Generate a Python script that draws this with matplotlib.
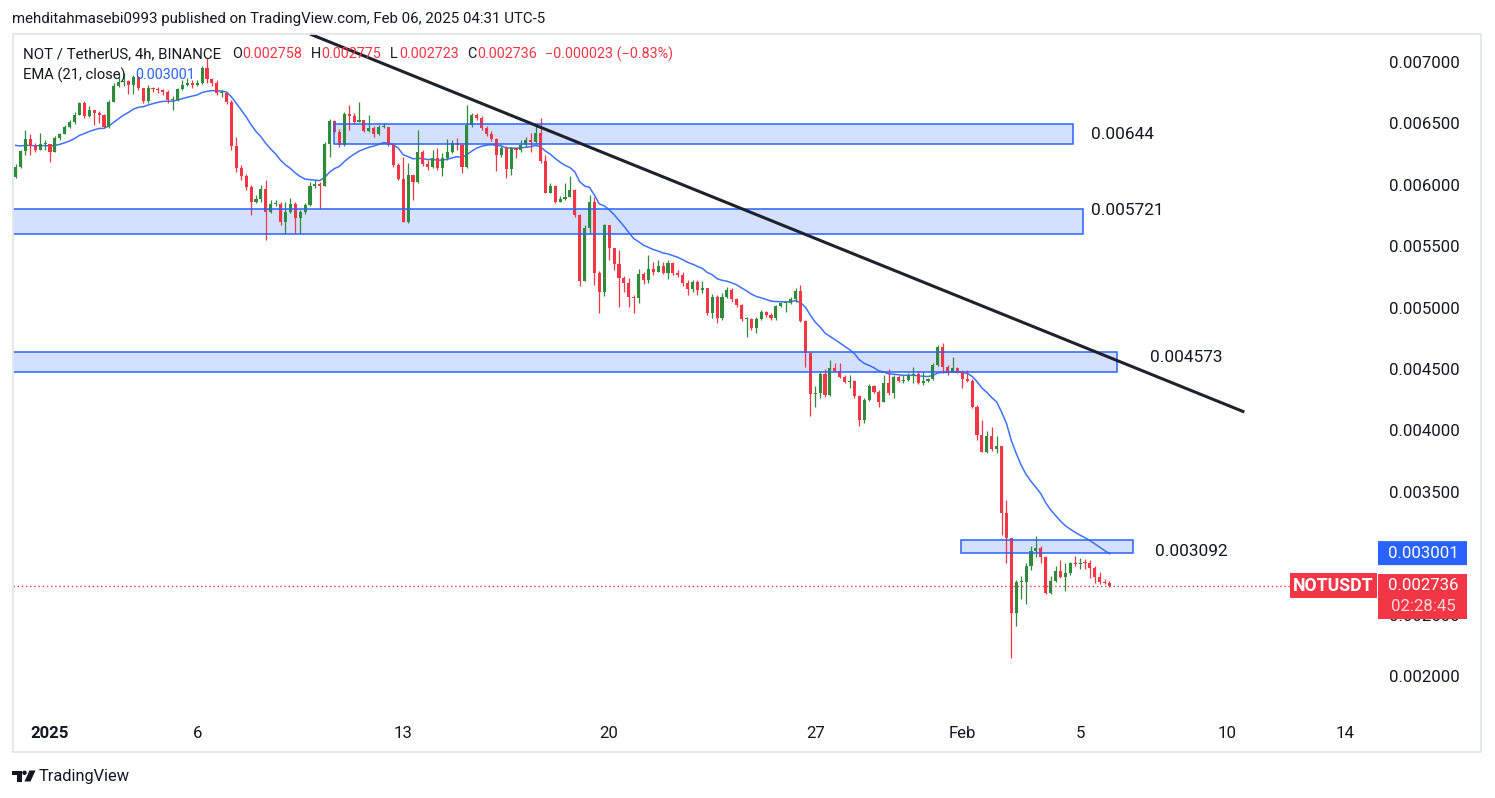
import numpy as np
import pandas as pd
import matplotlib
matplotlib.use("Agg")
import matplotlib.pyplot as plt
from matplotlib.patches import Rectangle, Polygon, Circle, FancyBboxPatch
from matplotlib.transforms import blended_transform_factory, IdentityTransform

W, H = 1495, 798
plt.rcParams["font.family"] = ["Roboto", "DejaVu Sans"]

# ---------------- data (prices in micro-USDT) ----------------
start_time = "2024-12-30 20:00"   # first 4h candle
first_open_u = 6066
close_u = [6148, 6275, 6371, 6316, 6284, 6330, 6330, 6270, 6379, 6414,
           6468, 6509, 6569, 6664, 6560, 6609, 6582, 6569, 6468, 6677,
           6807, 6840, 6848, 6813, 6880, 6786, 6682, 6786, 6778, 6772,
           6758, 6691, 6691, 6778, 6813, 6832, 6813, 6827, 6949, 6859,
           6827, 6745, 6745, 6677, 6316, 6134, 6072, 5985, 5863, 5882,
           5966, 5781, 5844, 5844, 5700, 5781, 5844, 5727, 5779, 5836,
           5993, 6004, 5990, 6330, 6520, 6433, 6324, 6577, 6563, 6514,
           6528, 6441, 6465, 6411, 6474, 6474, 6324, 6161, 6045, 5700,
           6080, 6025, 6270, 6170, 6143, 6216, 6134, 6216, 6270, 6338,
           6324, 6143, 6487, 6569, 6542, 6460, 6414, 6371, 6243, 6297,
           6126, 6297, 6284, 6324, 6365, 6351, 6424, 6194, 5936, 5990,
           5863, 5885, 5903, 5958, 5754, 5219, 5646, 5863, 5284, 5130,
           5673, 5483, 5355, 5238, 5203, 5089, 5076, 5274, 5225, 5317,
           5293, 5339, 5284, 5366, 5284, 5266, 5203, 5149, 5211, 5144,
           5160, 4959, 5084, 4913, 5089, 5144, 5068, 5021, 4905, 4910,
           4832, 4905, 4967, 4940, 4913, 5013, 5035, 5035, 5068, 5135,
           4891, 4628, 4297, 4302, 4457, 4288, 4506, 4486, 4438, 4397,
           4405, 4280, 4085, 4248, 4362, 4316, 4234, 4384, 4302, 4438,
           4405, 4411, 4451, 4460, 4389, 4403, 4419, 4533, 4677, 4514,
           4478, 4506, 4478, 4421, 4405, 4193, 3963, 3827, 3955, 3846,
           3873, 3330, 3122, 2511, 2768, 2768, 2896, 3018, 3045, 2972,
           2674, 2774, 2855, 2804, 2841, 2918, 2912, 2920, 2918, 2877,
           2804, 2768, 2758, 2736]
high_u = [6170, 6284, 6446, 6414, 6341, 6422, 6365, 6332, 6398, 6425,
          6487, 6528, 6593, 6677, 6680, 6642, 6609, 6604, 6577, 6691,
          6829, 6908, 6911, 6854, 6894, 6886, 6788, 6813, 6796, 6796,
          6780, 6772, 6723, 6788, 6854, 6870, 6854, 6854, 6968, 7030,
          6870, 6854, 6772, 6756, 6691, 6389, 6161, 6088, 5999, 5917,
          5999, 6039, 5876, 5876, 5860, 5860, 5893, 5860, 5795, 5852,
          6023, 6039, 6023, 6349, 6536, 6528, 6455, 6593, 6650, 6585,
          6674, 6528, 6569, 6479, 6487, 6503, 6446, 6341, 6178, 6227,
          6175, 6080, 6446, 6284, 6202, 6284, 6300, 6259, 6371, 6365,
          6384, 6341, 6650, 6585, 6582, 6560, 6479, 6438, 6381, 6316,
          6316, 6308, 6300, 6365, 6389, 6419, 6487, 6547, 6243, 6015,
          5999, 5909, 6015, 6072, 5966, 5762, 5673, 5917, 5903, 5298,
          5681, 5673, 5486, 5469, 5257, 5241, 5103, 5315, 5290, 5429,
          5372, 5388, 5372, 5388, 5372, 5306, 5290, 5225, 5225, 5225,
          5217, 5160, 5111, 5103, 5119, 5170, 5160, 5078, 5030, 4924,
          4916, 4924, 4981, 4972, 4956, 5021, 5046, 5054, 5087, 5157,
          5184, 4899, 4631, 4362, 4476, 4500, 4574, 4552, 4547, 4451,
          4451, 4411, 4289, 4264, 4378, 4370, 4329, 4451, 4498, 4451,
          4451, 4451, 4468, 4514, 4484, 4478, 4427, 4549, 4696, 4714,
          4533, 4598, 4517, 4492, 4492, 4419, 4207, 4085, 3995, 4025,
          3955, 3873, 3434, 3124, 2782, 2815, 2923, 3061, 3140, 3061,
          2977, 2815, 2896, 2945, 2918, 2931, 2977, 2959, 2951, 2945,
          2896, 2847, 2788, 2775]
low_u = [6056, 6137, 6243, 6243, 6267, 6284, 6284, 6188, 6267, 6365,
         6414, 6463, 6495, 6569, 6542, 6552, 6487, 6506, 6463, 6463,
         6674, 6799, 6805, 6740, 6740, 6772, 6666, 6666, 6756, 6748,
         6732, 6664, 6609, 6682, 6772, 6805, 6788, 6805, 6821, 6829,
         6805, 6732, 6715, 6658, 6284, 6104, 6039, 5958, 5754, 5852,
         5860, 5551, 5771, 5828, 5673, 5600, 5771, 5608, 5597, 5763,
         5828, 5974, 5803, 5990, 6229, 6422, 6310, 6316, 6446, 6495,
         6512, 6430, 6433, 6390, 6406, 6463, 6316, 6145, 6039, 5697,
         5687, 5876, 6015, 6153, 6121, 6137, 6121, 6074, 6202, 6259,
         6284, 6094, 6137, 6471, 6528, 6446, 6398, 6357, 6115, 6229,
         6053, 6080, 6218, 6267, 6308, 6270, 6341, 6178, 5933, 5933,
         5852, 5868, 5876, 5901, 5738, 5176, 5217, 5600, 5184, 4959,
         5095, 5388, 5306, 5008, 5130, 5008, 4956, 5040, 5192, 5200,
         5266, 5290, 5274, 5233, 5266, 5249, 5176, 5103, 5127, 5103,
         5119, 4940, 4913, 4873, 4899, 5078, 5046, 5005, 4891, 4761,
         4818, 4793, 4899, 4924, 4899, 4899, 5005, 4967, 5029, 5046,
         4883, 4516, 4117, 4191, 4262, 4272, 4280, 4476, 4427, 4386,
         4343, 4264, 4039, 4063, 4240, 4305, 4188, 4232, 4288, 4262,
         4394, 4384, 4403, 4384, 4378, 4370, 4394, 4411, 4525, 4465,
         4451, 4476, 4468, 4343, 4394, 4183, 3922, 3824, 3814, 3835,
         3819, 3149, 2918, 2149, 2410, 2627, 2587, 2864, 2967, 2918,
         2668, 2668, 2766, 2798, 2695, 2823, 2896, 2869, 2869, 2796,
         2755, 2750, 2747, 2723]

ema_span = 21
ema_seed_u = 6338
ema_last_label = "0.003001"
ema_last_value = 0.003001

zone_start = ["2025-01-10 16:00", "2024-12-29 00:00", "2024-12-29 00:00", "2025-01-31 23:00"]
zone_end = ["2025-02-04 18:00", "2025-02-05 02:00", "2025-02-06 06:00", "2025-02-06 19:00"]
zone_low = [0.006332, 0.005600, 0.004474, 0.003000]
zone_high = [0.006495, 0.005803, 0.004636, 0.003105]
zone_text = ["0.00644", "0.005721", "0.004573", "0.003092"]
zone_text_time = ["2025-02-05 09:00", "2025-02-05 09:00", "2025-02-07 09:00", "2025-02-07 13:00"]
zone_text_price = [0.006406, 0.005787, 0.004590, 0.003018]

trend_time = ["2025-01-09 20:00", "2025-02-10 14:00"]
trend_price = [0.007228, 0.004150]

tick_days = ["2025-01-01", "2025-01-06", "2025-01-13", "2025-01-20", "2025-01-27",
             "2025-02-01", "2025-02-05", "2025-02-10", "2025-02-14"]
tick_labels = ["2025", "6", "13", "20", "27", "Feb", "5", "10", "14"]
price_ticks = [0.002, 0.0025, 0.003, 0.0035, 0.004, 0.0045, 0.005, 0.0055, 0.006, 0.0065, 0.007]

header = "mehditahmasebi0993 published on TradingView.com, Feb 06, 2025 04:31 UTC-5"
legend_pieces = [("NOT / TetherUS, 4h, BINANCE", "k"), ("O", "k"), ("0.002758", "r"),
                 ("H", "k"), ("0.002775", "r"), ("L", "k"), ("0.002723", "r"),
                 ("C", "k"), ("0.002736", "r"), ("\u22120.000023 (\u22120.83%)", "r")]
countdown = "02:28:45"
symbol = "NOTUSDT"

# ---------------- styles ----------------
GREEN = "#2E8B3A"
RED = "#F23645"
BLUE = "#2962FF"
TXT = "#131722"
ZFILL = "#D4E0FF"

ref = pd.Timestamp("2025-01-01")
def days(s):
    return (pd.to_datetime(s) - ref) / pd.Timedelta(days=1)

close = np.array(close_u) / 1e6
high = np.array(high_u) / 1e6
low = np.array(low_u) / 1e6
opens = np.concatenate([[first_open_u / 1e6], close[:-1]])
high = np.maximum(high, np.maximum(opens, close))
low = np.minimum(low, np.minimum(opens, close))
times = pd.date_range(start_time, periods=len(close), freq="4h")
t = np.asarray((times - ref) / pd.Timedelta(days=1), dtype=float)

alpha = 2.0 / (ema_span + 1)
ema = np.empty_like(close)
e = ema_seed_u / 1e6
for i, c in enumerate(close):
    e = e + alpha * (c - e)
    ema[i] = e

fig = plt.figure(figsize=(W / 100, H / 100), dpi=100)
fig.patch.set_facecolor("white")
ax_l, ax_r, ax_t, ax_b = 13, 1377, 33, 715
ax = fig.add_axes([ax_l / W, 1 - ax_b / H, (ax_r - ax_l) / W, (ax_b - ax_t) / H])
x_left = (ax_l - 50) / 29.43
x_right = (ax_r - 50) / 29.43
ax.set_xlim(x_left, x_right)
ax.set_ylim(0.0016828, 0.0072363)
for sp in ax.spines.values():
    sp.set_visible(False)

renderer = fig.canvas.get_renderer()
def fit_size(s, target, weight="normal"):
    tt = fig.text(0, 0, s, fontsize=10, fontweight=weight)
    w = tt.get_window_extent(renderer).width
    tt.remove()
    return 10 * target / w

fs_axis = fit_size("0.007000", 70)
fs_leg = fit_size("0.002758", 60)
fs_head = fit_size(header, 533)

# zones
for s, en, lo, hi in zip(zone_start, zone_end, zone_low, zone_high):
    x0, x1 = days(s), days(en)
    ax.add_patch(Rectangle((x0, lo), x1 - x0, hi - lo, facecolor=ZFILL, edgecolor="none", zorder=1))
    ax.add_patch(Rectangle((x0, lo), x1 - x0, hi - lo, fill=False, edgecolor=BLUE, lw=1.1, zorder=6))
for s, tp, tx in zip(zone_text_time, zone_text_price, zone_text):
    ax.text(days(s), tp, tx, fontsize=fs_axis * 1.03, color=TXT, ha="left", va="center", zorder=7)

# EMA
ax.plot(t, ema, color=BLUE, lw=1.1, zorder=2, alpha=0.9)

# candles
up = close >= opens
col = np.where(up, GREEN, RED)
ax.vlines(t, low, high, colors=col, lw=0.9, zorder=3)
body_lo = np.minimum(opens, close)
body_h = np.maximum(np.abs(close - opens), 9e-6)
ax.bar(t, body_h, bottom=body_lo, width=0.105, color=col, lw=0, zorder=4)

# trendline
ax.plot([days(trend_time[0]), days(trend_time[1])], trend_price, color="#1E222D", lw=2.2,
        zorder=8, solid_capstyle="butt")

# current price line
last = close[-1]
ax.plot([x_left, (1290 - 50) / 29.43], [last, last], color=RED, lw=1, ls=(0, (1, 2)), zorder=5)

# axes ticks
ax.set_xticks([days(d) for d in tick_days])
ax.set_xticklabels(tick_labels, fontsize=fs_axis, color=TXT)
ax.get_xticklabels()[0].set_fontweight("bold")
ax.tick_params(axis="x", length=0, pad=8)
ax.yaxis.tick_right()
ax.set_yticks(price_ticks)
ax.set_yticklabels([f"{p:.6f}" for p in price_ticks], fontsize=fs_axis, color=TXT)
ax.tick_params(axis="y", length=0, pad=8.5)

# right-side value labels
dp = (0.0072363 - 0.0016828) / (ax_b - ax_t)
bl = blended_transform_factory(IdentityTransform(), ax.transData)
ax.add_patch(FancyBboxPatch((1378, ema_last_value - 12 * dp), 89, 24 * dp, transform=bl,
                            boxstyle="round,pad=0,rounding_size=0.0000001",
                            facecolor=BLUE, edgecolor="none", clip_on=False, zorder=20))
ax.text(1423, ema_last_value, ema_last_label, transform=bl, ha="center", va="center",
        color="white", fontsize=fs_axis, clip_on=False, zorder=21)
ax.add_patch(Rectangle((1378, last - 33 * dp), 89, 45 * dp, transform=bl,
                       facecolor=RED, edgecolor="none", clip_on=False, zorder=20))
ax.text(1423, last, f"{last:.6f}", transform=bl, ha="center", va="center",
        color="white", fontsize=fs_axis, clip_on=False, zorder=21)
ax.text(1423, last - 20.5 * dp, countdown, transform=bl, ha="center", va="center",
        color="white", alpha=0.8, fontsize=fs_axis, clip_on=False, zorder=21)
ax.add_patch(Rectangle((1290, last - 12.5 * dp), 87, 25 * dp, transform=bl,
                       facecolor=RED, edgecolor="none", clip_on=False, zorder=20))
ax.text(1333.5, last, symbol, transform=bl, ha="center", va="center",
        color="white", fontsize=fs_axis * 1.05, fontweight="bold", clip_on=False, zorder=21)

# overlay (figure pixel coords)
ov = fig.add_axes([0, 0, 1, 1])
ov.set_xlim(0, W)
ov.set_ylim(H, 0)
ov.axis("off")
ov.patch.set_visible(False)
ov.add_patch(Rectangle((12.5, 33.5), 1468, 718.5, fill=False, edgecolor="#E3E6EC", lw=1.3))

ov.text(12, 19, header, fontsize=fs_head, color=TXT, ha="left", va="center")
xs = [23, 232, 242, 311, 321, 390, 399, 467, 477, 545]
for k, ((s, c), x) in enumerate(zip(legend_pieces, xs)):
    fs = fit_size(s, 198) if k == 0 else fs_leg
    ov.text(x, 54, s, fontsize=fs, color=(TXT if c == "k" else RED), ha="left", va="center")
ov.text(23, 75, "EMA (21, close)", fontsize=fit_size("EMA (21, close)", 103), color=TXT,
        ha="left", va="center")
ov.text(135, 75, ema_last_label, fontsize=fs_leg, color=BLUE, ha="left", va="center")

# TradingView logo
ov.add_patch(Polygon([[12, 770.5], [21.5, 770.5], [21.5, 781.5], [16.5, 781.5], [16.5, 774.5], [12, 774.5]],
                     closed=True, facecolor=TXT, edgecolor="none"))
ov.add_patch(Circle((24.5, 772.8), 2.2, facecolor=TXT, edgecolor="none"))
ov.add_patch(Polygon([[29.5, 770.5], [35.5, 770.5], [30.5, 781.5], [24.5, 781.5]],
                     closed=True, facecolor=TXT, edgecolor="none"))
ov.text(39, 776, "TradingView", fontsize=fit_size("TradingView", 91), color=TXT,
        ha="left", va="center")

fig.savefig("out.png", dpi=100, facecolor="white")
